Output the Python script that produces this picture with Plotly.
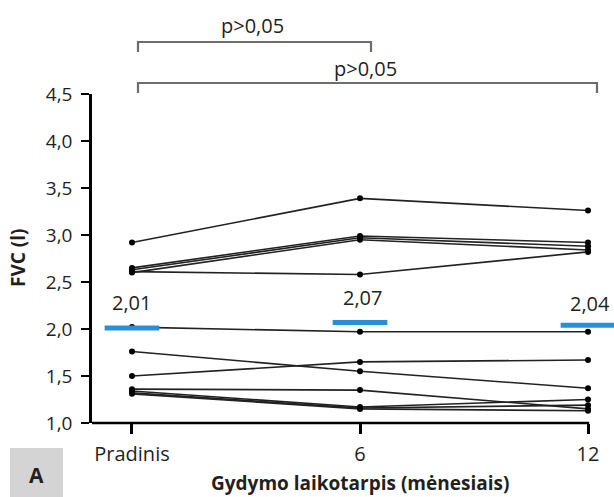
import plotly.graph_objects as go

categories = ["Pradinis", "6", "12"]
cat_pos = [0, 1, 2]

# FVC (l) per patient at baseline, 6 and 12 months
patients = [
    [2.92, 3.39, 3.26],
    [2.65, 2.99, 2.92],
    [2.63, 2.97, 2.88],
    [2.60, 2.95, 2.84],
    [2.61, 2.58, 2.82],
    [2.02, 1.97, 1.97],
    [1.76, 1.55, 1.37],
    [1.50, 1.65, 1.67],
    [1.36, 1.35, 1.15],
    [1.34, 1.17, 1.25],
    [1.32, 1.16, 1.19],
    [1.31, 1.15, 1.13],
]

means = [2.01, 2.07, 2.04]
mean_labels = ["2,01", "2,07", "2,04"]

y_ticks = [1.0, 1.5, 2.0, 2.5, 3.0, 3.5, 4.0, 4.5]
y_tick_labels = ["1,0", "1,5", "2,0", "2,5", "3,0", "3,5", "4,0", "4,5"]

p_labels = ["p>0,05", "p>0,05"]

W, H = 614, 497
L, R, T, B = 92, 0, 94, 74
XMIN, XMAX = -0.1754, 2.114
YMIN, YMAX = 1.0, 4.5
pw = W - L - R
ph = H - T - B

def px_x(px):
    return (px - L) / pw

def px_y(py):
    return (H - B - py) / ph

FONT = "Open Sans"
TXT = "#231f20"

fig = go.Figure()

for p in patients:
    fig.add_trace(go.Scatter(
        x=cat_pos, y=p, mode="lines+markers",
        line=dict(color="#222222", width=1.6),
        marker=dict(color="#000000", size=6),
        showlegend=False, hoverinfo="skip"))

half = 0.12
for c, m in zip(cat_pos, means):
    fig.add_trace(go.Scatter(
        x=[c - half, c + half], y=[m, m], mode="lines",
        line=dict(color="#2b8fd6", width=5),
        showlegend=False, hoverinfo="skip"))

label_y = [2.28, 2.33, 2.27]
label_dx = [0.0, 0.01, 0.01]
for c, t, ly, dx in zip(cat_pos, mean_labels, label_y, label_dx):
    fig.add_annotation(x=c + dx, y=ly, text=t, showarrow=False,
                       xanchor="center", yanchor="middle",
                       font=dict(family=FONT, size=20, color=TXT))

shapes = []
# x axis line
shapes.append(dict(type="line", xref="x", yref="paper", x0=XMIN, x1=2.005,
                   y0=0, y1=0, line=dict(color="#000", width=2.5)))
# brackets
br_col = "#6d6d6d"
for x0, x1, yh, yl in [(138, 371, 42, 52), (138, 597, 83, 93)]:
    shapes.append(dict(type="path", xref="paper", yref="paper",
                       path=f"M {px_x(x0)},{px_y(yl)} L {px_x(x0)},{px_y(yh)} L {px_x(x1)},{px_y(yh)} L {px_x(x1)},{px_y(yl)}",
                       line=dict(color=br_col, width=2.2)))
# A box
shapes.append(dict(type="rect", xref="paper", yref="paper",
                   x0=px_x(10), x1=px_x(63), y0=px_y(497), y1=px_y(448),
                   fillcolor="#d4d4d4", line=dict(width=0)))

def ann(cx, cy, text, size, angle=0):
    fig.add_annotation(xref="paper", yref="paper", x=px_x(cx), y=px_y(cy),
                       text=text, showarrow=False, textangle=angle,
                       xanchor="center", yanchor="middle",
                       font=dict(family=FONT, size=size, color=TXT))

for (cx, cy), t in zip([(252, 25), (365, 68)], p_labels):
    ann(cx, cy, t, 20)

ann(36, 475, "<b>A</b>", 21)
ann(18, 258, "<b>FVC (l)</b>", 19, -90)
ann(360, 483, "<b>Gydymo laikotarpis (mėnesiais)</b>", 19)

fig.update_layout(
    width=W, height=H,
    margin=dict(l=L, r=R, t=T, b=B),
    paper_bgcolor="white", plot_bgcolor="white",
    shapes=shapes,
    xaxis=dict(range=[XMIN, XMAX], tickvals=cat_pos, ticktext=categories,
               showgrid=False, zeroline=False, showline=False,
               ticks="outside", ticklen=10, tickwidth=2.5, tickcolor="#000",
               ticklabelstandoff=3,
               tickfont=dict(family=FONT, size=20, color=TXT)),
    yaxis=dict(range=[YMIN, YMAX], tickvals=y_ticks, ticktext=y_tick_labels,
               showgrid=False, zeroline=False, showline=True,
               linecolor="#000", linewidth=2.5,
               ticks="outside", ticklen=8, tickwidth=2, tickcolor="#000",
               ticklabelstandoff=5,
               tickfont=dict(family=FONT, size=19, color=TXT)),
)

fig.write_html("out.html", config={"displayModeBar": False},
               post_script="document.body.style.margin='0';")
